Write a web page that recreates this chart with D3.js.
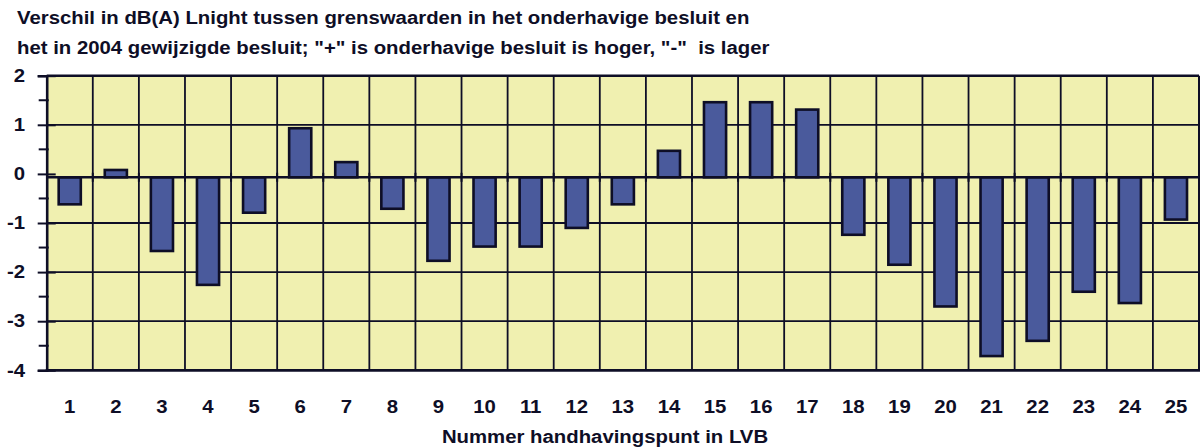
<!DOCTYPE html>
<html>
<head>
  <meta charset="UTF-8">
  <title>Verschil in dB(A) Lnight</title>
  <style>
    body { margin: 0; background: #fff; }
    svg { display: block; }
    text { font-family: Arial, "Liberation Sans", sans-serif; font-weight: bold; fill: #0e0e26; }
  </style>
</head>
<body>
<svg></svg>
<script src="https://d3js.org/d3.v7.min.js"></script>
<script>

// data
let points = d3.range(1, 26).map(String);
let verschil = [-0.62, 0.08, -1.57, -2.26, -0.79, 0.93, 0.24, -0.71, -1.77, -1.48,
                -1.48, -1.10, -0.62, 0.47, 1.46, 1.46, 1.31, -1.24, -1.85, -2.70,
                -3.71, -3.40, -2.40, -2.63, -0.93];
let yTicks = [-4, -3, -2, -1, 0, 1, 2];
let yMinor = [-3.5, -2.5, -1.5, -0.5, 0.5, 1.5];
let titleLines = [
    "Verschil in dB(A) Lnight tussen grenswaarden in het onderhavige besluit en",
    "het in 2004 gewijzigde besluit; \"+\" is onderhavige besluit is hoger, \"-\"  is lager"
];
let xTitle = "Nummer handhavingspunt in LVB";

let width = 1200,
    height = 448;

let plotLeft = 46.7, plotRight = 1199, plotTop = 75.7, plotBottom = 370.3;

let svg = d3.select("svg")
    .attr("width", width)
    .attr("height", height);

let x = d3.scaleBand()
    .domain(points)
    .range([plotLeft, plotRight])
    .padding(0);

let y = d3.scaleLinear()
    .domain([-4, 2])
    .range([plotBottom, plotTop]);

// the category axis sits a few px under the 0 gridline in the original
let zeroY = y(0) + 3.4;
let ink = "#0e0e26";

// plot area
svg.append("rect")
    .attr("x", plotLeft)
    .attr("y", plotTop)
    .attr("width", plotRight - plotLeft)
    .attr("height", plotBottom - plotTop)
    .attr("fill", "#f0f0b0");

// horizontal gridlines
svg.append("g")
    .selectAll("line")
    .data(yTicks.filter(d => d != 0 && d != -4))
    .enter()
    .append("line")
    .attr("x1", plotLeft)
    .attr("x2", plotRight)
    .attr("y1", d => y(d))
    .attr("y2", d => y(d))
    .attr("stroke", ink)
    .attr("stroke-width", d => d == 2 ? 2.5 : 1.8);

// vertical gridlines at category borders
svg.append("g")
    .selectAll("line")
    .data(points.slice(1))
    .enter()
    .append("line")
    .attr("x1", d => x(d))
    .attr("x2", d => x(d))
    .attr("y1", plotTop)
    .attr("y2", plotBottom)
    .attr("stroke", ink)
    .attr("stroke-width", 1.8);

// right border
svg.append("line")
    .attr("x1", plotRight).attr("x2", plotRight)
    .attr("y1", plotTop).attr("y2", plotBottom)
    .attr("stroke", ink)
    .attr("stroke-width", 2);

// bars
svg.append("g")
    .selectAll("rect")
    .data(verschil)
    .enter()
    .append("rect")
    .attr("x", (d, i) => x(points[i]) + x.bandwidth() * 0.26)
    .attr("width", x.bandwidth() * 0.48)
    .attr("y", d => d >= 0 ? y(d) : zeroY)
    .attr("height", d => Math.abs(y(d) - zeroY))
    .attr("fill", "#4a5a9c")
    .attr("stroke", ink)
    .attr("stroke-width", 2.6);

// category axis line + cross ticks
svg.append("line")
    .attr("x1", plotLeft).attr("x2", plotRight)
    .attr("y1", zeroY).attr("y2", zeroY)
    .attr("stroke", ink)
    .attr("stroke-width", 2.6);

svg.append("g")
    .selectAll("line")
    .data(points.slice(1))
    .enter()
    .append("line")
    .attr("x1", d => x(d))
    .attr("x2", d => x(d))
    .attr("y1", zeroY - 4.5)
    .attr("y2", zeroY + 4.5)
    .attr("stroke", ink)
    .attr("stroke-width", 2);

// bottom frame
svg.append("line")
    .attr("x1", plotLeft - 1).attr("x2", plotRight + 1)
    .attr("y1", plotBottom).attr("y2", plotBottom)
    .attr("stroke", ink)
    .attr("stroke-width", 2.8);

// y axis
let yAxis = svg.append("g")
    .attr("transform", "translate(" + plotLeft + ",0)")
    .call(d3.axisLeft(y).tickValues(yTicks).tickSize(9).tickPadding(12.7).tickFormat(d => String(d)));

yAxis.select(".domain")
    .attr("stroke", ink)
    .attr("stroke-width", 2.6);
yAxis.selectAll(".tick line")
    .attr("x1", 9)
    .attr("stroke", ink)
    .attr("stroke-width", 2);

svg.append("g")
    .selectAll("line")
    .data(yMinor)
    .enter()
    .append("line")
    .attr("x1", plotLeft - 8)
    .attr("x2", plotLeft + 2)
    .attr("y1", d => y(d))
    .attr("y2", d => y(d))
    .attr("stroke", ink)
    .attr("stroke-width", 2);

// x labels
let xAxis = svg.append("g")
    .attr("transform", "translate(0," + plotBottom + ")")
    .call(d3.axisBottom(x).tickSize(0).tickPadding(29.6));

xAxis.select(".domain").remove();

// titles
svg.append("g")
    .selectAll("text")
    .data(titleLines)
    .enter()
    .append("text")
    .attr("x", 17)
    .attr("y", (d, i) => 24 + i * 30)
    .style("white-space", "pre")
    .text(d => d);

svg.append("text")
    .attr("x", 605)
    .attr("y", 443)
    .attr("text-anchor", "middle")
    .text(xTitle);

// all text: bold 18px, a bit wider than Arial as in the original
svg.selectAll("text")
    .attr("fill", ink)
    .style("font-size", "18px")
    .style("font-family", "Arial, 'Liberation Sans', sans-serif")
    .style("font-weight", "bold")
    .each(function() {
        let w = this.getComputedTextLength();
        d3.select(this)
            .attr("textLength", w * 1.13)
            .attr("lengthAdjust", "spacingAndGlyphs");
    });

</script>
</body>
</html>
